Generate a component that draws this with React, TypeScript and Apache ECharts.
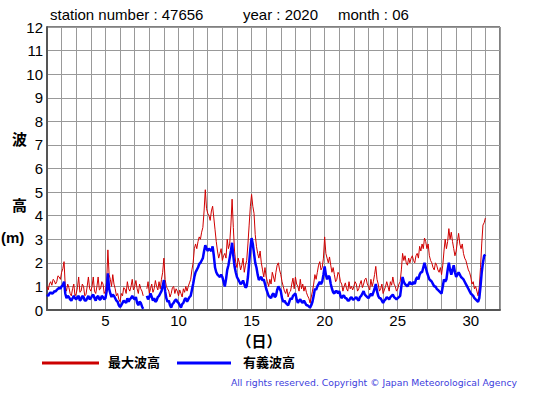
import React, { useEffect, useRef } from "react";
import * as echarts from "echarts";

// Samples every 2 hours (12 per day) starting June 1 00:00 (day 1.0); null = missing
const maxWave: (number | null)[] = [
  1.0, 0.85, 1.1, 1.2, 1.05, 1.3, 1.25, 1.1, 1.2, 1.45, 1.4, 1.3,
  1.6, 1.75, 2.05, 1.0, 0.8, 1.1, 0.95, 0.7, 0.6, 0.9, 1.1, 0.6,
  0.7, 0.95, 1.4, 0.75, 0.8, 1.1, 1.0, 0.6, 0.65, 1.0, 1.4, 0.9,
  0.8, 1.0, 1.4, 0.8, 0.7, 1.0, 1.4, 0.85, 0.9, 1.2, 1.1, 0.7,
  0.8, 1.2, 2.55, 1.5, 1.3, 1.0, 1.5, 1.1, 0.9, 0.6, 0.7, 0.45,
  0.35, 0.7, 0.6, 0.95, 0.9, 0.7, 1.2, 0.9, 0.8, 1.0, 1.3, 0.85,
  1.0, 1.25, 0.9, 0.7, 1.1, 0.9, 0.8, 0.6, null, null, 0.9, 1.2,
  0.7, 0.9, 1.1, 0.75, 0.9, 1.25, 1.0, 0.85, 1.2, 0.9, 1.3, 1.6,
  2.2, 1.3, 1.0, 0.9, 0.8, 0.55, 0.7, 0.95, 1.0, 0.7, 0.9, 0.8,
  0.6, 0.85, 0.7, 0.55, 0.9, 0.75, 1.0, 0.8, 1.0, 1.15, 1.3, 1.7,
  2.0, 2.6, 2.8, 2.6, 2.9, 3.1, 3.0, 3.3, 3.5, 4.2, 5.1, 4.3,
  4.1, 4.0, 3.8, 4.2, 4.4, 3.9, 3.4, 2.9, 2.5, 2.2, 2.4, 2.6,
  2.1, 2.3, 2.4, 2.2, 3.0, 2.6, 2.8, 3.6, 4.7, 3.5, 2.5, 2.0,
  1.8, 2.2, 2.0, 1.7, 1.9, 2.2, 1.6, 1.9, 2.1, 2.8, 3.6, 4.4,
  4.9, 4.4, 4.1, 3.2, 2.7, 2.4, 2.2, 2.5, 2.0, 1.7, 1.4, 1.8,
  1.4, 1.2, 1.0, 1.3, 1.1, 1.6, 1.4, 1.2, 1.6, 1.9, 2.0, 1.7,
  1.5, 1.2, 1.0, 0.8, 0.7, 0.9, 0.55, 0.75, 0.8, 1.1, 1.35, 0.9,
  1.4, 1.1, 1.0, 0.8, 1.3, 0.9, 1.1, 0.8, 1.0, 0.75, 0.6, 0.5,
  0.3, 0.55, 0.8, 1.1, 1.5, 1.3, 1.6, 1.9, 2.05, 1.7, 1.8, 2.2,
  3.1, 2.4, 2.2, 2.0, 2.25, 1.9, 1.6, 1.8, 1.5, 1.2, 1.3, 1.6,
  1.5, 1.2, 1.1, 0.8, 1.0, 1.15, 0.9, 0.8, 1.2, 0.9, 1.0, 0.85,
  1.0, 1.2, 1.1, 0.8, 0.9, 1.1, 1.25, 0.95, 1.1, 1.3, 1.35, 1.1,
  1.0, 0.85, 1.3, 1.0, 1.2, 1.5, 1.85, 1.3, 1.1, 0.8, 0.9, 1.1,
  0.7, 0.85, 1.0, 1.2, 1.0, 0.8, 1.2, 1.05, 1.4, 1.1, 1.0, 0.8,
  0.9, 1.1, 1.2, 1.7, 2.4, 2.1, 2.3, 2.0, 1.9, 2.2, 2.0, 2.2,
  2.3, 2.1, 2.0, 2.3, 2.4, 2.2, 2.7, 2.5, 2.8, 2.6, 3.05, 2.9,
  2.6, 2.8, 2.3, 2.1, 2.0, 1.8, 1.7, 2.0, 1.9, 1.7, 1.6, 1.8,
  1.5, 1.9, 2.5, 3.0, 2.6, 2.9, 3.45, 3.0, 3.3, 2.9, 2.6, 2.3,
  2.5, 2.9, 3.25, 2.8, 2.6, 2.8, 2.4, 2.2, 2.1, 1.9, 1.7, 1.6,
  1.4, 1.1, 1.2, 0.9, 1.0, 0.8, 0.6, 1.0, 1.8, 2.8, 3.6, 3.7,
  3.9,
];

const sigWave: (number | null)[] = [
  0.65, 0.6, 0.7, 0.75, 0.7, 0.72, 0.8, 0.78, 0.85, 0.9, 0.95, 0.9,
  1.0, 1.05, 1.2, 0.7, 0.5, 0.6, 0.55, 0.45, 0.4, 0.5, 0.6, 0.5,
  0.45, 0.55, 0.6, 0.4, 0.45, 0.6, 0.55, 0.4, 0.4, 0.5, 0.6, 0.45,
  0.5, 0.6, 0.65, 0.5, 0.4, 0.55, 0.6, 0.45, 0.45, 0.6, 0.55, 0.45,
  0.5, 0.8, 1.55, 0.9, 0.7, 0.55, 0.65, 0.6, 0.5, 0.4, 0.35, 0.2,
  0.12, 0.2, 0.3, 0.4, 0.35, 0.3, 0.5, 0.35, 0.45, 0.5, 0.6, 0.5,
  0.45, 0.55, 0.3, 0.2, 0.35, 0.3, 0.15, 0.05, null, null, 0.6, 0.45,
  0.55, 0.7, 0.55, 0.4, 0.5, 0.35, 0.4, 0.55, 0.6, 0.7, 0.8, 1.0,
  1.27, 0.8, 0.5, 0.35, 0.4, 0.2, 0.1, 0.25, 0.3, 0.4, 0.45, 0.35,
  0.3, 0.2, 0.1, 0.25, 0.3, 0.45, 0.5, 0.35, 0.45, 0.55, 0.6, 0.85,
  1.1, 1.4, 1.6, 1.7, 1.8, 1.95, 2.0, 2.1, 2.2, 2.5, 2.75, 2.6,
  2.5, 2.6, 2.55, 2.5, 2.7, 2.3, 1.8, 1.6, 1.5, 1.45, 1.4, 1.5,
  1.4, 1.2, 1.0, 1.3, 1.7, 1.9, 2.2, 2.5, 2.85, 2.3, 1.85, 1.6,
  1.4, 1.3, 1.2, 1.1, 1.15, 1.25, 1.1, 0.95, 1.0, 1.4, 2.0, 2.6,
  3.05, 2.8, 2.4, 2.0, 1.8, 1.5, 1.27, 1.35, 1.4, 1.25, 1.3, 1.1,
  0.9, 0.75, 0.6, 0.55, 0.5, 0.65, 0.7, 0.55, 0.6, 0.85, 1.0, 0.9,
  0.8, 0.5, 0.35, 0.4, 0.3, 0.25, 0.2, 0.35, 0.5, 0.45, 0.6, 0.65,
  0.7, 0.45, 0.3, 0.4, 0.45, 0.35, 0.3, 0.4, 0.3, 0.2, 0.2, 0.15,
  0.1, 0.2, 0.35, 0.6, 0.9, 0.85, 1.0, 1.1, 1.2, 1.1, 1.2, 1.5,
  1.85, 1.5, 1.3, 1.45, 1.4, 1.1, 0.9, 0.75, 0.7, 0.8, 0.8, 0.7,
  0.8, 0.6, 0.5, 0.6, 0.6, 0.5, 0.5, 0.4, 0.4, 0.5, 0.55, 0.45,
  0.45, 0.5, 0.55, 0.45, 0.4, 0.55, 0.6, 0.7, 0.8, 0.65, 0.6, 0.55,
  0.5, 0.6, 0.7, 0.6, 0.75, 0.9, 1.1, 0.8, 0.6, 0.5, 0.5, 0.4,
  0.3, 0.4, 0.45, 0.55, 0.5, 0.45, 0.55, 0.6, 0.65, 0.55, 0.5, 0.45,
  0.5, 0.55, 0.6, 1.0, 1.4, 1.2, 1.1, 1.05, 1.0, 1.1, 1.2, 1.1,
  1.1, 1.2, 1.1, 1.3, 1.4, 1.3, 1.5, 1.6, 1.6, 1.8, 2.0, 1.8,
  1.6, 1.45, 1.3, 1.25, 1.2, 1.1, 1.0, 1.0, 0.9, 0.85, 0.8, 0.75,
  0.7, 1.0, 1.3, 1.2, 1.3, 1.7, 2.0, 1.7, 1.5, 1.7, 1.9, 1.6,
  1.4, 1.5, 1.6, 1.5, 1.4, 1.35, 1.3, 1.2, 1.1, 1.0, 0.9, 0.8,
  0.7, 0.65, 0.6, 0.5, 0.45, 0.4, 0.35, 0.5, 1.0, 1.6, 2.0, 2.3,
  2.35,
];

const samplesPerDay = 12;
const firstDay = 1;
const xMin = 1;
const xMax = 32;
const yMin = 0;
const yMax = 12;
const xLabelDays = [5, 10, 15, 20, 25, 30];

const titleParts = ["station number : 47656", "year : 2020", "month : 06"];
const legendNames = ["最大波高", "有義波高"];
const yAxisNameParts = ["波", "高", "(m)"];
const xAxisName = "（日）";
const copyright = "All rights reserved. Copyright © Japan Meteorological Agency";

const toSeries = (arr: (number | null)[]) =>
  arr.map((v, i) => [firstDay + i / samplesPerDay, v === null ? "-" : v]);

const SANS = "'Liberation Sans', Arial, Helvetica, sans-serif";
const CJK = "'Noto Sans CJK JP', sans-serif";

export default function App() {
  const ref = useRef<HTMLDivElement>(null);
  useEffect(() => {
    if (!ref.current) return;
    const chart = echarts.init(ref.current, null, { renderer: "svg" });
    chart.setOption({
      animation: false,
      backgroundColor: "#ffffff",
      grid: {
        left: 47,
        top: 27,
        right: 55,
        bottom: 85,
        show: true,
        borderColor: "#000",
        borderWidth: 1,
        backgroundColor: "transparent",
      },
      xAxis: {
        type: "value",
        min: xMin,
        max: xMax,
        interval: 1,
        axisLine: { show: true, lineStyle: { color: "#555", width: 2 } },
        axisTick: { show: false },
        splitLine: { show: true, lineStyle: { color: "#999", width: 1 } },
        axisLabel: {
          color: "#000",
          fontSize: 15,
          fontFamily: SANS,
          margin: 3,
          formatter: (v: number) => (xLabelDays.includes(v) ? String(v) : ""),
        },
      },
      yAxis: {
        type: "value",
        min: yMin,
        max: yMax,
        interval: 1,
        axisLine: { show: true, lineStyle: { color: "#555", width: 2 } },
        axisTick: { show: false },
        splitLine: { show: true, lineStyle: { color: "#999", width: 1 } },
        axisLabel: { color: "#000", fontSize: 15, fontFamily: SANS, margin: 4 },
      },
      series: [
        {
          name: legendNames[0],
          type: "line",
          data: toSeries(maxWave),
          showSymbol: false,
          connectNulls: false,
          lineStyle: { color: "#d00000", width: 1 },
          itemStyle: { color: "#d00000" },
        },
        {
          name: legendNames[1],
          type: "line",
          data: toSeries(sigWave),
          showSymbol: false,
          connectNulls: false,
          lineStyle: { color: "#0000ff", width: 2.5 },
          itemStyle: { color: "#0000ff" },
        },
      ],
      graphic: [
        { type: "text", x: 50, y: 7, style: { text: titleParts[0], fontSize: 15, fontFamily: SANS, fill: "#000" } },
        { type: "text", x: 243, y: 7, style: { text: titleParts[1], fontSize: 15, fontFamily: SANS, fill: "#000" } },
        { type: "text", x: 338, y: 7, style: { text: titleParts[2], fontSize: 15, fontFamily: SANS, fill: "#000" } },
        { type: "text", x: 12, y: 131, style: { text: yAxisNameParts[0], fontSize: 15, fontWeight: "bold", fontFamily: CJK, fill: "#000" } },
        { type: "text", x: 12, y: 197, style: { text: yAxisNameParts[1], fontSize: 15, fontWeight: "bold", fontFamily: CJK, fill: "#000" } },
        { type: "text", x: 1, y: 230, style: { text: yAxisNameParts[2], fontSize: 15, fontWeight: "bold", fontFamily: SANS, fill: "#000" } },
        { type: "text", x: 259, y: 333, style: { text: xAxisName, fontSize: 15, fontWeight: "bold", fontFamily: CJK, fill: "#000", align: "center" } },
        { type: "line", shape: { x1: 42, y1: 363, x2: 99, y2: 363 }, style: { stroke: "#cc0000", lineWidth: 3 } },
        { type: "text", x: 108, y: 355, style: { text: legendNames[0], fontSize: 13, fontWeight: "bold", fontFamily: CJK, fill: "#000" } },
        { type: "line", shape: { x1: 177, y1: 363, x2: 231, y2: 363 }, style: { stroke: "#0000ff", lineWidth: 3 } },
        { type: "text", x: 243, y: 355, style: { text: legendNames[1], fontSize: 13, fontWeight: "bold", fontFamily: CJK, fill: "#000" } },
        { type: "text", x: 517, y: 378, style: { text: copyright, fontSize: 9.3, fontFamily: "'DejaVu Sans', Verdana, sans-serif", fill: "#4040dd", align: "right" } },
      ],
    });
    return () => chart.dispose();
  }, []);
  return (
    <div
      ref={ref}
      style={{ position: "fixed", left: 0, top: 0, width: 555, height: 395, background: "#fff" }}
    />
  );
}
